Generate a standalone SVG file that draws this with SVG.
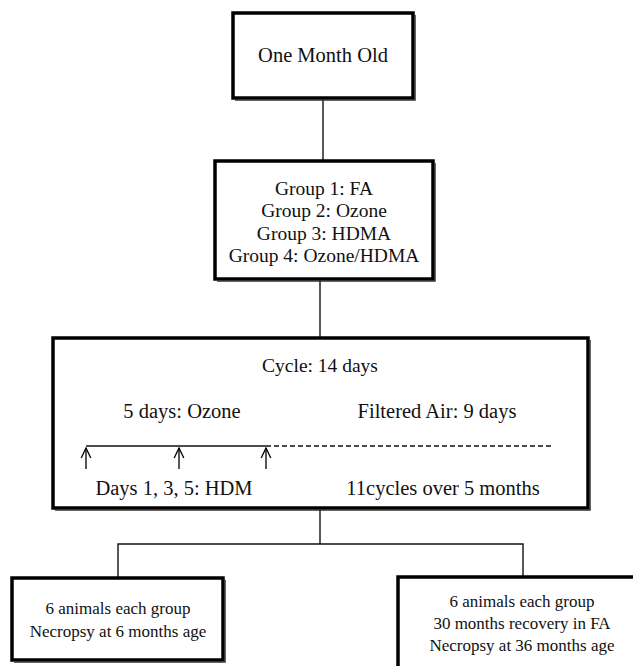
<svg xmlns="http://www.w3.org/2000/svg" width="633" height="666" viewBox="0 0 633 666">
<style>
.box{fill:#fff;stroke:#000;stroke-width:3.5}
.sh{fill:none;stroke:#333;stroke-width:1.5}
.l{font-size:20.5px}
.m{font-size:19.5px}
.s{font-size:17px}
.c{stroke:#111;stroke-width:1.4;fill:none}
</style>
<defs>
<marker id="ar" viewBox="0 0 12 12" refX="11" refY="6" markerWidth="12" markerHeight="12" markerUnits="userSpaceOnUse" orient="auto">
<path d="M1,1.2 L11,6 L1,10.8" fill="none" stroke="#000" stroke-width="1.3"/>
</marker>
</defs>
<g id="connectors">
<line class="c" x1="323" y1="98" x2="323" y2="161"/>
<line class="c" x1="320" y1="279" x2="320" y2="338"/>
<line class="c" x1="320" y1="508" x2="320" y2="544"/>
<polyline class="c" points="118,578 118,544 523,544 523,577"/>
</g>
<g font-family="Liberation Serif, DejaVu Serif, serif" fill="#111" text-anchor="middle">
<g id="n1">
<rect class="box" x="233" y="13" width="180" height="85"/>
<polyline class="sh" points="415,15 415,100 235,100"/>
<text class="l" x="323" y="62">One Month Old</text>
</g>
<g id="n2">
<rect class="box" x="215" y="161" width="218" height="118"/>
<polyline class="sh" points="435,163 435,281 217,281"/>
<text class="m" x="324" y="195">Group 1: FA</text>
<text class="m" x="324" y="217">Group 2: Ozone</text>
<text class="m" x="324" y="240">Group 3: HDMA</text>
<text class="m" x="324" y="262">Group 4: Ozone/HDMA</text>
</g>
<g id="n3">
<rect class="box" x="53" y="338" width="535" height="170"/>
<polyline class="sh" points="590,340 590,510 55,510"/>
<text class="m" x="320" y="372">Cycle: 14 days</text>
<text class="l" x="182" y="418">5 days: Ozone</text>
<text class="l" x="437" y="418">Filtered Air: 9 days</text>
<line class="c" x1="86" y1="446" x2="266" y2="446"/>
<line class="c" x1="266" y1="446" x2="553" y2="446" stroke-dasharray="5,3"/>
<line class="c" x1="86" y1="469" x2="86" y2="448" marker-end="url(#ar)"/>
<line class="c" x1="179" y1="469" x2="179" y2="448" marker-end="url(#ar)"/>
<line class="c" x1="266" y1="469" x2="266" y2="448" marker-end="url(#ar)"/>
<text class="l" x="174" y="495">Days 1, 3, 5: HDM</text>
<text class="l" x="443" y="495">11cycles  over 5 months</text>
</g>
<g id="n4">
<rect class="box" x="12" y="578" width="211" height="82"/>
<polyline class="sh" points="225,580 225,662 14,662"/>
<text class="s" x="118" y="614">6 animals each group</text>
<text class="s" x="118" y="637">Necropsy  at 6 months age</text>
</g>
<g id="n5">
<rect class="box" x="398" y="577" width="250" height="100"/>
<text class="s" x="522" y="607">6 animals each group</text>
<text class="s" x="522" y="629">30 months recovery in FA</text>
<text class="s" x="522" y="651">Necropsy  at 36 months age</text>
</g>
</g>
</svg>
